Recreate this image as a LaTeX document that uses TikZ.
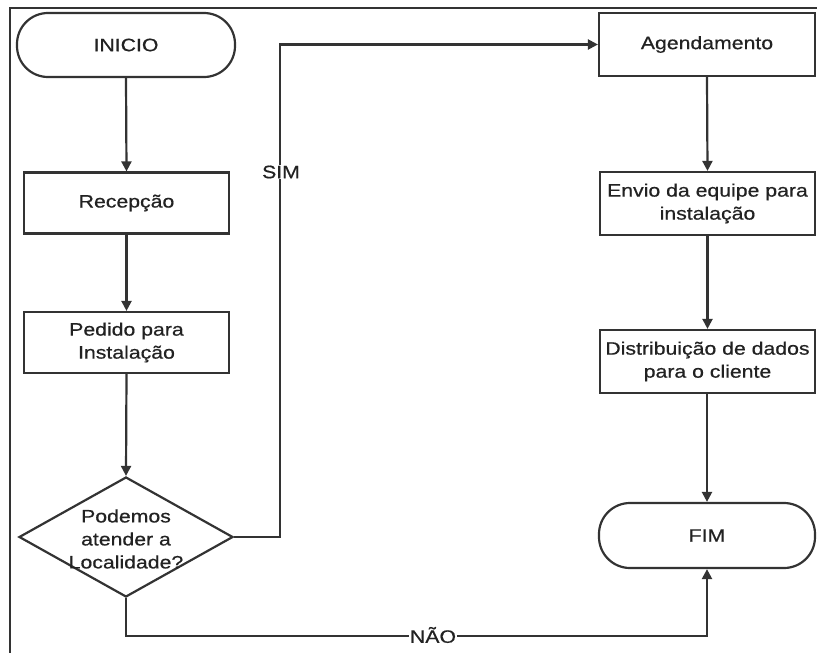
\documentclass[tikz,border=0pt]{standalone}
\usepackage{fontspec}
\setmainfont{Liberation Sans}[FakeStretch=1.18,FakeBold=0.6]
\usetikzlibrary{arrows.meta,shapes.geometric}
\definecolor{ln}{HTML}{333333}
\definecolor{tx}{HTML}{222222}
\tikzset{
  x=1pt,y=1pt,
  every node/.style={text=tx,font=\fontsize{18}{23}\selectfont,align=center},
  proc/.style={draw=ln,line width=2.2pt,fill=white,rectangle,inner sep=0pt},
  term/.style={draw=ln,line width=2.2pt,fill=white,rectangle,rounded corners=31pt,inner sep=0pt},
  dec/.style={draw=ln,line width=2.2pt,fill=white,diamond,inner sep=0pt},
  flow/.style={draw=ln,line width=2.2pt,-{Triangle[length=10pt,width=10pt]}},
  lbl/.style={fill=white,inner sep=1pt}
}
\begin{document}
\begin{tikzpicture}
\useasboundingbox (0,0) rectangle (817,-653);
% frame
\draw[ln,line width=2.2pt] (817,-8) -- (10,-8) -- (10,-653);
% left column
\node[term,minimum width=218pt,minimum height=64pt] (inicio) at (126,-45) {INICIO};
\node[proc,minimum width=205pt,minimum height=61pt] (recep) at (126.5,-203) {Recepção};
\node[proc,minimum width=205pt,minimum height=61pt] (pedido) at (126.5,-342.5) {Pedido para\\Instalação};
\node[dec,minimum width=214pt,minimum height=120pt] (decis) at (126,-537) {};
\node (dectext) at (126,-539) {Podemos\\atender a\\Localidade?};
% right column
\node[proc,minimum width=216pt,minimum height=63pt] (agend) at (707,-44.5) {Agendamento};
\node[proc,minimum width=215pt,minimum height=63pt] (envio) at (707.5,-203.5) {Envio da equipe para\\instalação};
\node[proc,minimum width=215pt,minimum height=63pt] (distr) at (707.5,-361.5) {Distribuição de dados\\para o cliente};
\node[term,minimum width=216pt,minimum height=65pt] (fim) at (707,-535.5) {FIM};
% connectors
\draw[flow] (inicio.south) -- (recep.north);
\draw[flow] (recep.south) -- (pedido.north);
\draw[flow] (pedido.south) -- (decis.north);
\draw[flow] (decis.east) -- ++(46,0) |- (agend.west);
\draw[flow] (agend.south) -- (envio.north);
\draw[flow] (envio.south) -- (distr.north);
\draw[flow] (distr.south -| fim.north) -- (fim.north);
\draw[flow] (decis.south) -- ++(0,-38) -| (fim.south);
% labels
\node[lbl] (sim) at (281,-172) {SIM};
\node[lbl] (nao) at (433,-635) {NÃO};
\end{tikzpicture}
\end{document}
